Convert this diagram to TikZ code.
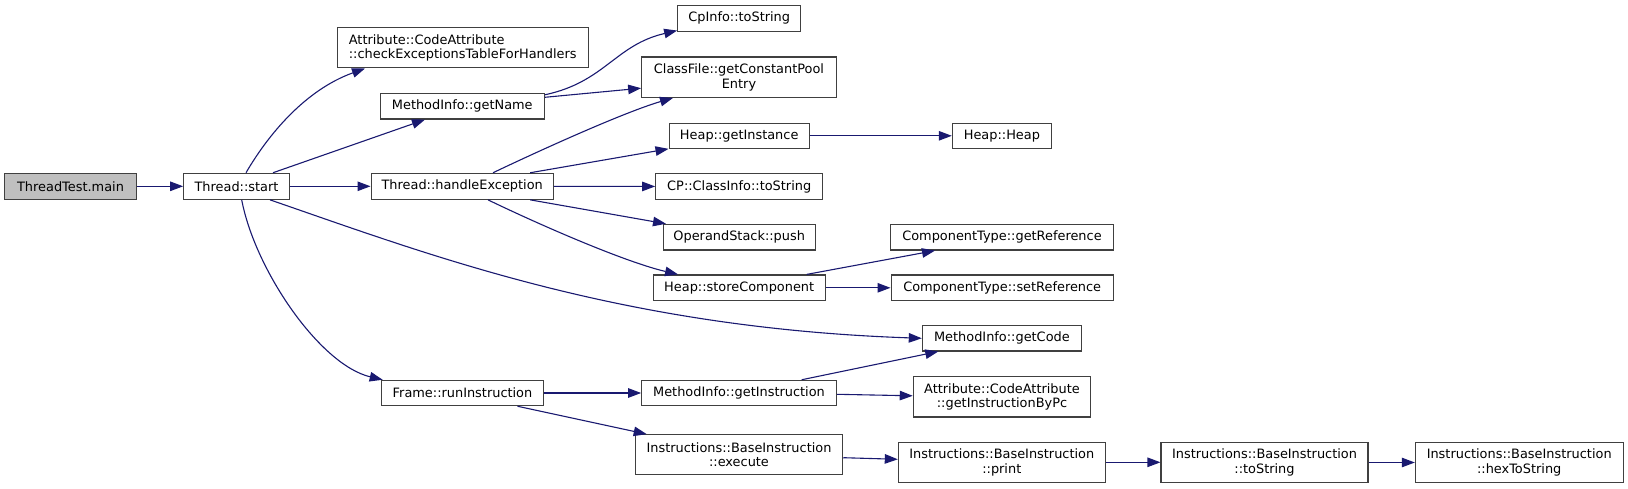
\documentclass[tikz,border=0pt]{standalone}
\usepackage{fontspec}
\setmainfont{DejaVu Sans}
\usetikzlibrary{arrows.meta,calc}
\definecolor{edgecol}{HTML}{191970}
\definecolor{bordercol}{HTML}{404040}
\definecolor{rootfill}{HTML}{BFBFBF}
\tikzset{
  fn/.style={draw=bordercol, fill=white, line width=1.1pt, inner sep=0pt, align=center,
    font=\fontsize{12.9}{14.5}\selectfont},
  rootfn/.style={fn, fill=rootfill},
  edge/.style={draw=edgecol, line width=1.1pt, -{Triangle[length=13pt,width=9.5pt]}},
}
\begin{document}
\begin{tikzpicture}[x=1pt,y=-1pt]
\useasboundingbox (0,0) rectangle (1628,489);
% nodes
\node[rootfn, minimum width=131.6pt, minimum height=26pt] (main) at (70.5,186.3) {ThreadTest.main};
\node[fn, minimum width=105.6pt, minimum height=26pt] (start) at (236.5,186.3) {Thread::start};
\node[fn, align=left, minimum width=250.7pt, minimum height=40.3pt] (check) at (462.7,47.8) {Attribute::CodeAttribute\\::checkExceptionsTableForHandlers};
\node[fn, minimum width=164pt, minimum height=25.7pt] (getName) at (462.3,106.2) {MethodInfo::getName};
\node[fn, minimum width=182.3pt, minimum height=26pt] (handleEx) at (462.2,186.3) {Thread::handleException};
\node[fn, minimum width=161.5pt, minimum height=25.4pt] (frame) at (462.5,393) {Frame::runInstruction};
\node[fn, minimum width=123pt, minimum height=26pt] (cpinfo) at (739.2,18.3) {CpInfo::toString};
\node[fn, minimum width=194.6pt, minimum height=40.3pt] (classfile) at (739,77.2) {ClassFile::getConstantPool\\Entry};
\node[fn, minimum width=140.3pt, minimum height=25pt] (getInstance) at (739.2,135.8) {Heap::getInstance};
\node[fn, minimum width=167pt, minimum height=25.6pt] (cpclass) at (739.2,186.5) {CP::ClassInfo::toString};
\node[fn, minimum width=152.3pt, minimum height=25.7pt] (push) at (739.2,237.2) {OperandStack::push};
\node[fn, minimum width=172.3pt, minimum height=25.7pt] (storeComp) at (739.2,287.8) {Heap::storeComponent};
\node[fn, minimum width=194.6pt, minimum height=25.4pt] (getInstruction) at (739,393) {MethodInfo::getInstruction};
\node[fn, minimum width=207.4pt, minimum height=39.6pt] (execute) at (739,454.5) {Instructions::BaseInstruction\\::execute};
\node[fn, minimum width=99.1pt, minimum height=25pt] (heapheap) at (1001.9,135.8) {Heap::Heap};
\node[fn, minimum width=222.6pt, minimum height=25.7pt] (getRef) at (1002,237.2) {ComponentType::getReference};
\node[fn, minimum width=222.3pt, minimum height=25.7pt] (setRef) at (1002.2,287.8) {ComponentType::setReference};
\node[fn, minimum width=159.1pt, minimum height=25.3pt] (getCode) at (1001.9,338.3) {MethodInfo::getCode};
\node[fn, minimum width=177.4pt, minimum height=40.3pt] (byPc) at (1002,396.8) {Attribute::CodeAttribute\\::getInstructionByPc};
\node[fn, minimum width=206.9pt, minimum height=40pt] (print) at (1001.8,462.3) {Instructions::BaseInstruction\\::print};
\node[fn, minimum width=207pt, minimum height=40.4pt] (toStr) at (1264.5,462.5) {Instructions::BaseInstruction\\::toString};
\node[fn, minimum width=207.7pt, minimum height=40.4pt] (hexStr) at (1519.2,462.5) {Instructions::BaseInstruction\\::hexToString};
% edges
\draw[edge] (main) -- (start);
\draw[edge] ([xshift=9.5pt]start.north) .. controls (268,135) and (305,90) .. ([xshift=-97.7pt]check.south);
\draw[edge] ([xshift=36.5pt]start.north) -- ([xshift=-37.3pt]getName.south);
\draw[edge] (start) -- (handleEx);
\draw[edge] ([xshift=33.5pt]start.south) .. controls (430,255) and (620,328) .. (getCode.west);
\draw[edge] ([xshift=5.2pt]start.south) .. controls (255,270) and (320,365) .. ([xshift=1.5pt]frame.north west);
\draw[edge] ([yshift=-2pt]getName.north east) .. controls (605,82) and (615,45) .. ([yshift=1.3pt]cpinfo.south west);
\draw[edge] ([yshift=-4.5pt]getName.north east) -- ([yshift=-11pt]classfile.west);
\draw[edge] ([xshift=30.8pt]handleEx.north) .. controls (545,148) and (625,112) .. ([xshift=-66pt]classfile.south);
\draw[edge] ([xshift=68pt]handleEx.north) -- (getInstance.south west);
\draw[edge] (handleEx) -- (cpclass);
\draw[edge] ([xshift=68pt]handleEx.south) -- ([xshift=3.5pt]push.north west);
\draw[edge] ([xshift=25.8pt]handleEx.south) .. controls (540,225) and (625,262) .. ([xshift=-61.2pt]storeComp.north);
\draw[edge] (getInstance) -- (heapheap);
\draw[edge] ([xshift=67.5pt]storeComp.north) -- ([xshift=-67pt]getRef.south);
\draw[edge] (storeComp) -- (setRef);
\draw[edge] ([xshift=62.7pt]getInstruction.north) -- ([xshift=-63.6pt]getCode.south);
\draw[edge] (frame) -- (getInstruction);
\draw[edge] ([xshift=55pt]frame.south) -- ([xshift=-92.3pt]execute.north);
\draw[edge] ([yshift=-1.3pt]getInstruction.east) -- ([yshift=1pt]byPc.west);
\draw[edge] ([yshift=-3.2pt]execute.east) -- ([yshift=3pt]print.west);
\draw[edge] (print.east) -- (print.east -| toStr.west);
\draw[edge] (toStr) -- (hexStr);
\end{tikzpicture}
\end{document}
